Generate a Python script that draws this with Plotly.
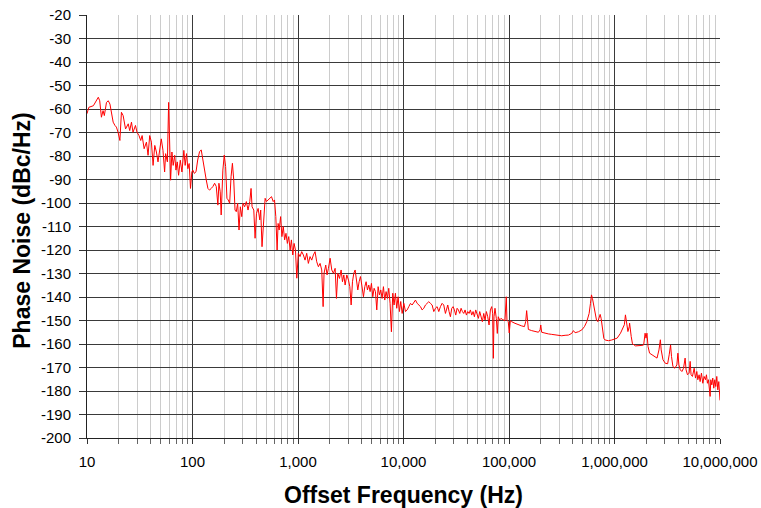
import plotly.graph_objects as go

# Offset frequency (Hz) and phase noise (dBc/Hz)
freq_hz = [
    10, 10.4, 11.5, 12.8, 13.2, 13.7, 14.2, 14.6, 15.3, 15.9, 16.5, 17.1, 17.7, 18.4, 19.0, 19.7,
    20.5, 21.2, 22.0, 23.2, 24.6, 25.4, 26.4, 27.3, 28.8, 29.8, 31.1, 32.3, 33.3, 34.8, 36.6, 37.9,
    39.3, 40.8, 42.3, 43.9, 45.5, 47.1, 48.9, 50.6, 52.5, 54.4, 55.6, 57.8, 59.4, 61.0, 62, 63.8,
    65.6, 67.8, 69.7, 71.7, 73.8, 76.6, 79.4, 82.8, 85.2, 87.8, 90.3, 93, 95.7, 98.6,
    100.7, 104, 108, 112, 116.6, 121, 125.4, 130, 135, 140, 145, 150.6, 156, 162, 168, 174, 178,
    183, 187, 194, 200, 206, 212, 218, 225, 232, 239, 246, 253, 260, 268, 276, 284, 293, 301, 312,
    324, 336, 349, 359, 367, 381, 392, 404, 419, 434, 443, 456, 474, 488, 502, 520, 541, 561, 582,
    599, 616, 634, 648, 663, 684, 704, 725, 747, 769, 793, 817, 842, 866, 892, 918, 946, 974,
    1007, 1045, 1084, 1124, 1166, 1209, 1254, 1300, 1349, 1399, 1451, 1505, 1561, 1619, 1679, 1730,
    1766, 1832, 1885, 1943, 2015, 2090, 2168, 2249, 2315, 2383, 2472, 2563, 2639, 2717, 2797, 2901,
    3010, 3098, 3190, 3284, 3381, 3480, 3583, 3688, 3797, 3909, 4024, 4173, 4296, 4423, 4553, 4687,
    4826, 4968, 5114, 5265, 5421, 5580, 5745, 5914, 6089, 6268, 6453, 6643, 6839, 7041, 7248, 7462,
    7682, 7909, 8142, 8382, 8629, 8884, 9146, 9415, 9714,
    10073, 10445, 10831, 11232, 11647, 12078, 12525, 12988, 13468, 13966, 14483, 15018, 15574,
    16150, 16747, 17366, 18008, 18674, 19365, 20081, 20824, 21594, 22392, 23220, 24079, 24969,
    25517, 26270, 27045, 27843, 28665, 29510, 30381, 31277, 32200, 33150, 34128, 35135, 36172,
    37239, 38338, 39469, 40634, 41833, 43067, 44338, 45646, 46993, 48380, 49807, 51277, 52790,
    54347, 55951, 57602, 59301, 61051, 62852, 64707, 66616, 68581, 70057, 71071, 72097, 73657,
    75830, 77467, 79145, 81477, 83883, 86355, 88905, 91527, 94230, 95612, 98432, 100500, 103000,
    106000, 114000, 122600, 131900, 140000, 143900, 147000, 149000, 152600, 164000, 176500, 190000,
    197000, 200000, 204000, 219700, 236000, 254000, 273000, 294000, 316000, 340000, 366000, 393000,
    408000, 423000, 455000, 490000, 519000, 546000, 575000, 592000, 605000, 618000, 632000, 646000,
    661000, 675000, 695000, 716000, 731000, 747000, 769000, 792000, 815000, 876000, 941000,
    1000000, 1060000, 1140000, 1210000, 1240000, 1270000, 1300000, 1340000, 1380000, 1390000,
    1440000, 1480000, 1580000, 1700000, 1820000, 1890000, 1950000, 1990000, 2030000, 2080000,
    2150000, 2270000, 2380000, 2530000, 2640000, 2720000, 2770000, 2880000, 3030000, 3190000,
    3300000, 3400000, 3470000, 3580000, 3730000, 3900000, 3990000, 4080000, 4200000, 4350000,
    4510000, 4670000, 4770000, 4920000, 5100000, 5210000, 5320000, 5480000, 5690000, 5860000,
    6030000, 6160000, 6340000, 6480000, 6670000, 6870000, 7070000, 7280000, 7440000, 7600000,
    7770000, 7940000, 8060000, 8180000, 8360000, 8540000, 8730000, 8920000, 9120000, 9320000,
    9530000, 9740000, 9880000, 9960000, 10000000,
]
phase_noise_dbc = [
    -62, -59.3, -58.6, -55, -56.5, -63.5, -60.7, -62.8, -57.2, -56.5, -57.9, -62.8, -65.6, -67, -67.7, -69.9,
    -73.4, -61.4, -62.8, -68.5, -66.3, -69.2, -65.6, -69.9, -67, -69.9, -71.3, -73.4, -71.3, -76.9, -74.1, -79.7,
    -71.3, -74.1, -84, -75.5, -78.3, -82.5, -76.2, -72.7, -77.6, -86.8, -79, -82.5, -57.2, -75.5, -90.3, -78.3,
    -84, -79.7, -86, -82.5, -88.2, -81.8, -86.8, -77.6, -84, -79, -85.4, -83.2, -93.8, -86.8,
    -86, -87.4, -86.7, -81.7, -78.2, -77.4, -81.7, -87.4, -90.2, -93.8, -94.5, -93.8, -93, -91.6, -93, -100.9, -91.6,
    -95.2, -105.1, -86, -79.6, -84.5, -98, -98.7, -100.1, -88.8, -83.1, -90.2, -103, -103.7, -100.1, -111.5, -101.6, -105.8, -100.1, -101.6,
    -99.4, -103, -99.4, -93.8, -101.6, -103, -115, -104.4, -102.3, -107.2, -103, -118.6, -107.2, -98, -99.4, -98.7, -98, -97.3, -99.4,
    -98.7, -105.8, -120, -108.7, -111.5, -105.8, -114.3, -110, -115.7, -112.9, -117.2, -114.3, -120, -115.7, -122.1, -117.2, -120, -132,
    -121.4, -122.8, -120.7, -122.1, -124.3, -121.4, -125.7, -122.8, -124.3, -122.1, -120.7, -125, -127.1, -125.7, -128.5, -144.1,
    -129.9, -126.4, -130.6, -127.8, -123.5, -128.5, -129.9, -127.8, -140.6, -129.9, -132.1, -128.5, -133.5, -130.6, -134.9, -130.6,
    -132.8, -135.6, -143.4, -133.5, -129.9, -128.5, -132.1, -137, -133.5, -131.3, -134.9, -139.9, -135.6, -133.5, -137, -134.9,
    -137.7, -134.2, -139.9, -136.3, -137.7, -145.5, -135.6, -139.1, -137, -140.6, -135.6, -141.3, -137.7, -140.6, -136.3, -142.7,
    -154.8, -138.4, -143.4, -138.4, -144.8, -139.9, -146.2, -141.9, -147,
    -142.7, -146.2, -145.5, -144.1, -142.7, -143.4, -142, -141.3, -142.7, -143.4, -144.1, -145.5, -144.8,
    -143.4, -142.7, -142, -142.7, -143.4, -146.2, -144.8, -144.1, -146.2, -144.1, -142.7, -143.4, -147,
    -145.5, -143.4, -146.2, -148.4, -144.8, -144.1, -145.5, -147.7, -144.8, -145.5, -147, -144.8, -146.2,
    -147, -145.5, -147.7, -146.2, -147, -145.5, -147.7, -146.2, -148.4, -145.5, -147, -149.1, -146.2,
    -148.4, -150.5, -147, -149.8, -146.2, -148.4, -151.9, -145.5, -144.1, -147, -166.1, -148.4, -144.8,
    -149.1, -155.5, -148.4, -149.8, -149.1, -149.5, -149.8, -150.1, -139.9, -149.8, -150.5, -155.3, -150,
    -150.5, -151.2, -151.9, -152.3, -152.6, -150.5, -145.8, -150.5, -153.8, -154.3, -154.8, -155,
    -154, -151.9, -155, -155.5, -155.7, -155.9, -156.2, -156.3, -156.5, -156.3, -156.2, -155.5,
    -154.3, -155.2, -154.8, -154, -152.6, -150.5, -147, -142.7, -139.1, -140.6, -143.4, -146.2,
    -147, -149.8, -150.5, -149.1, -147.4, -149.1, -154.8, -157.6, -158.3, -158.6, -158.3,
    -157.9, -157.5, -155.4, -153.3, -151.8, -147.6, -151.8, -154.7, -152.6, -151.1,
    -156.8, -159.9, -160.8, -160.8, -160.6, -160.4, -155.4, -157.5, -155.4, -161.1,
    -163.9, -164.6, -165.3, -166, -162.5, -158.2, -162.5, -166.7, -168.2, -168.4,
    -164.6, -160.4, -165.3, -169.6, -170.3, -168.9, -163.9, -168.9, -171, -171.7,
    -170.3, -166, -171, -173.1, -172.4, -167.4, -173.1, -173.8, -170.3, -174.5,
    -171.7, -175.2, -173.1, -176, -172.4, -176.7, -173.8, -175.2, -173.1, -176.7,
    -175.2, -179.5, -182.3, -175.2, -177.4, -174.5, -178.8, -175.2, -178.1, -173.8,
    -179.5, -176, -181.6, -178.8, -184,
]

x_tick_vals = [10, 100, 1000, 10000, 100000, 1000000, 10000000]
x_tick_text = ["10", "100", "1,000", "10,000", "100,000", "1,000,000", "10,000,000"]
y_tick_vals = list(range(-200, -19, 10))
y_tick_text = [str(v) for v in y_tick_vals]

fig = go.Figure()
fig.add_trace(go.Scatter(
    x=freq_hz, y=phase_noise_dbc, mode="lines",
    line=dict(color="#ff0000", width=1), showlegend=False, hoverinfo="skip",
))

font_family = "Liberation Sans, Arial, sans-serif"
fig.update_layout(
    width=761, height=508,
    margin=dict(l=87, r=41, t=15, b=70),
    paper_bgcolor="white", plot_bgcolor="white",
    font=dict(family=font_family, size=15, color="black"),
)
fig.update_xaxes(
    type="log", range=[1, 7], automargin=False,
    tickvals=x_tick_vals, ticktext=x_tick_text,
    showgrid=True, gridcolor="#3a3a3a", gridwidth=1,
    ticks="outside", ticklen=5, tickcolor="#333333",
    ticklabelstandoff=5,
    showline=True, linecolor="#222222", linewidth=1,
    minor=dict(dtick="D1", showgrid=True, gridcolor="#cccccc", gridwidth=1,
               ticks="outside", ticklen=5, tickcolor="#666666"),
    zeroline=False,
    title=dict(text="<b>Offset Frequency (Hz)</b>", font=dict(size=23, family=font_family), standoff=17),
    tickfont=dict(size=15),
)
fig.update_yaxes(
    range=[-200, -20], automargin=False,
    tickvals=y_tick_vals, ticktext=y_tick_text,
    showgrid=True, gridcolor="#3a3a3a", gridwidth=1,
    ticks="outside", ticklen=7, tickcolor="#333333",
    ticklabelstandoff=5,
    showline=True, linecolor="#222222", linewidth=1,
    zeroline=False,
    tickfont=dict(size=15),
)
fig.add_annotation(
    text="<b>Phase Noise (dBc/Hz)</b>", textangle=-90,
    xref="paper", yref="paper", x=-0.1027, y=0.49,
    xanchor="center", yanchor="middle", showarrow=False,
    font=dict(size=23, family=font_family, color="black"),
)

fig.write_html("out.html", config={"displayModeBar": False},
               post_script="document.body.style.margin='0px';")
